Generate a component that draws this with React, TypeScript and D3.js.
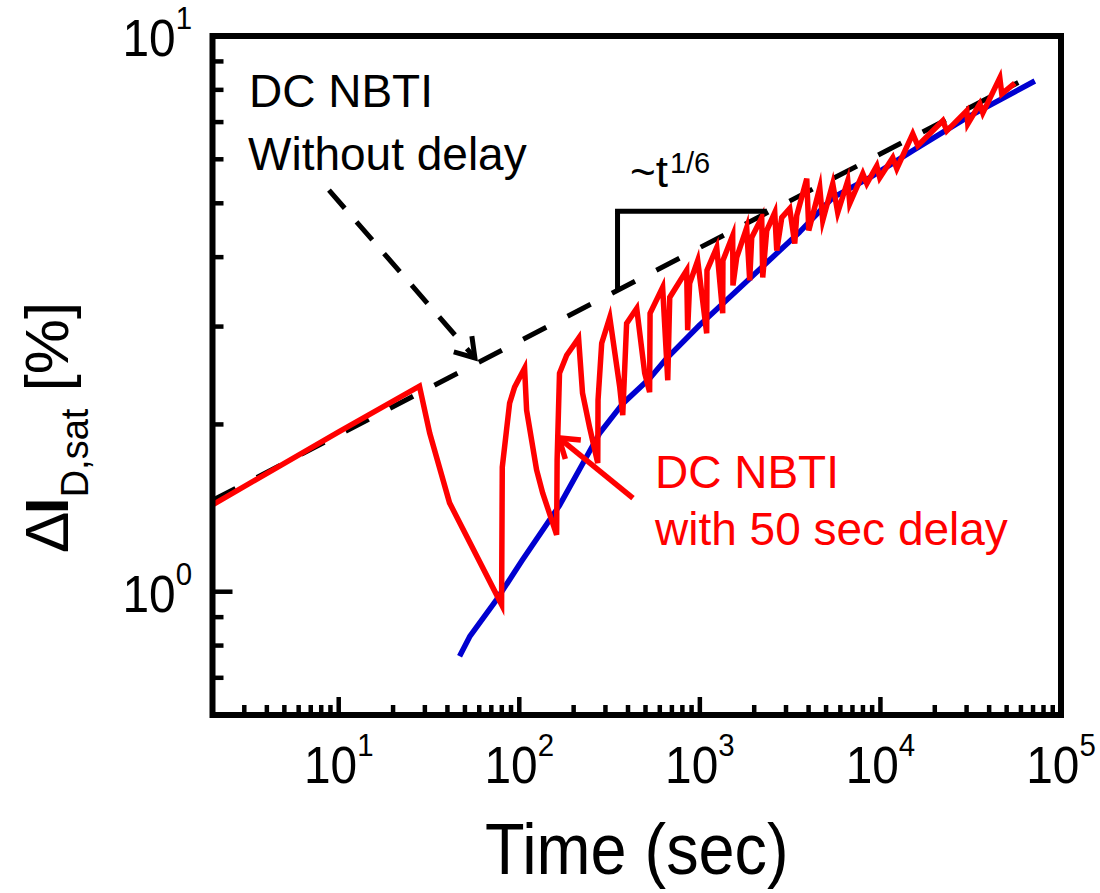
import React from "react";
import * as d3 from "d3";

const W = 1100;
const H = 893;
const FONT = "'Liberation Sans', Arial, Helvetica, sans-serif";

// Axis domains and labelled decades
const xDomain: [number, number] = [2, 1e5];
const yDomain: [number, number] = [0.6, 10];
const xMajorTicks = [10, 100, 1000, 10000, 100000];
const xTickExponents = ["1", "2", "3", "4", "5"];
const yMajorTicks = [1, 10];
const yTickExponents = ["0", "1"];

// DC NBTI measured without delay: power-law trend ~t^(1/6)
const trendTime = [2, 58000];
const trendValue = [1.46, 8.25];

// Continuous stress after the delay (blue)
const blueTime = [46.7, 53.1, 74.9, 104, 167, 279, 374, 527, 655, 998, 1288, 2346, 3574, 5444, 8728, 15100, 30090, 71620];
const blueValue = [0.765, 0.83, 0.968, 1.14, 1.43, 1.93, 2.18, 2.42, 2.63, 3.02, 3.26, 3.91, 4.44, 5.12, 5.56, 6.22, 7.13, 8.3];

// DC NBTI with 50 sec delay between stress and measurement (red)
const redTime = [
  2, 10, 28, 31.9, 41.1, 79.8, 80.5, 88.4, 94.2, 107, 109.8, 124.7, 134.7, 161, 162, 167, 183, 213,
  224, 245, 272, 273, 286, 317, 360, 374, 393, 447, 495, 527, 530, 622, 664, 681, 845, 856, 878, 973,
  1091, 1095, 1240, 1338, 1342, 1520, 1525, 1600, 1817, 1888, 1937, 2201, 2229, 2346, 2599, 2666, 2842,
  3146, 3353, 3440, 3909, 4010, 4614, 4792, 5444, 5801, 6593, 6763, 7985, 8405, 9546, 9917, 11703,
  12320, 15100, 16100, 22150, 23310, 30080, 30470, 35500, 36900, 45830, 47000, 55500,
];
const redValue = [
  1.433, 1.94, 2.343, 1.93, 1.445, 0.948, 1.676, 2.184, 2.334, 2.525, 2.122, 1.656, 1.506, 1.266, 1.726,
  2.473, 2.664, 2.858, 2.277, 1.978, 1.704, 2.212, 2.8, 3.117, 2.334, 2.078, 3.04, 3.235, 2.473, 2.286,
  3.17, 3.53, 2.402, 3.385, 3.787, 2.954, 3.587, 3.945, 2.917, 3.787, 4.163, 3.17, 3.945, 4.375, 3.557,
  3.995, 4.52, 3.632, 4.339, 4.713, 3.677, 4.466, 4.811, 4.111, 4.713, 4.892, 4.232, 4.752, 5.537, 4.467,
  5.335, 4.655, 5.424, 4.811, 5.491, 4.994, 5.652, 5.424, 5.841, 5.56, 6.04, 5.77, 6.67, 6.35, 7.04,
  6.75, 7.34, 6.95, 7.55, 7.27, 8.41, 7.87, 8.23,
];

// Slope bracket for the ~t^(1/6) guide
const bracketTime = [350, 350, 2350];
const bracketValue = [3.5, 4.84, 4.84];

// Annotation arrows (tail -> tip), in data coordinates
const blackArrow = { from: [8.83, 5.28], to: [56.8, 2.634] };
const redArrow = { from: [426, 1.474], to: [165.8, 1.891] };

type Pt = [number, number];
const zip = (a: number[], b: number[]): Pt[] => a.map((t, i) => [t, b[i]] as Pt);

function chevron(tail: Pt, tip: Pt, len: number, halfAngleDeg: number): string {
  const back = Math.atan2(tail[1] - tip[1], tail[0] - tip[0]);
  const h = (halfAngleDeg * Math.PI) / 180;
  const a1: Pt = [tip[0] + len * Math.cos(back + h), tip[1] + len * Math.sin(back + h)];
  const a2: Pt = [tip[0] + len * Math.cos(back - h), tip[1] + len * Math.sin(back - h)];
  return `M${a1[0]},${a1[1]}L${tip[0]},${tip[1]}L${a2[0]},${a2[1]}`;
}

export default function App() {
  const left = 212.5;
  const right = 1061;
  const top = 36;
  const bottom = 715;

  const x = d3.scaleLog().domain(xDomain).range([left, right]);
  const y = d3.scaleLog().domain(yDomain).range([bottom, top]);
  const line = d3
    .line<Pt>()
    .x((d) => x(d[0]))
    .y((d) => y(d[1]));

  const xMinor = x.ticks().filter((t) => !xMajorTicks.includes(t) && t > xDomain[0]);
  const yMinor = y.ticks().filter((t) => !yMajorTicks.includes(t) && t > yDomain[0]);

  const bTail: Pt = [x(blackArrow.from[0]), y(blackArrow.from[1])];
  const bTip: Pt = [x(blackArrow.to[0]), y(blackArrow.to[1])];
  const rTail: Pt = [x(redArrow.from[0]), y(redArrow.from[1])];
  const rTip: Pt = [x(redArrow.to[0]), y(redArrow.to[1])];

  return (
    <svg
      width={W}
      height={H}
      viewBox={`0 0 ${W} ${H}`}
      style={{ position: "absolute", left: 0, top: 0, background: "#fff" }}
      fontFamily={FONT}
    >
      <defs>
        <clipPath id="plotArea">
          <rect x={left} y={top} width={right - left} height={bottom - top} />
        </clipPath>
      </defs>

      {/* data */}
      <g clipPath="url(#plotArea)" fill="none">
        <path
          d={line(zip(trendTime, trendValue)) || ""}
          stroke="#000"
          strokeWidth={5}
          strokeDasharray="26 24"
        />
        <path d={line(zip(blueTime, blueValue)) || ""} stroke="#0000d0" strokeWidth={5.5} strokeLinejoin="round" />
        <path
          d={line(zip(redTime, redValue)) || ""}
          stroke="#ff0000"
          strokeWidth={5.5}
          strokeLinejoin="miter"
          strokeMiterlimit={6}
        />
      </g>

      {/* slope bracket */}
      <path
        d={line(zip(bracketTime, bracketValue)) || ""}
        fill="none"
        stroke="#000"
        strokeWidth={5}
        strokeLinejoin="miter"
      />
      <text x={630} y={187} fontSize={44} fill="#000">
        ~t
        <tspan fontSize={29} dx={2} dy={-14}>
          1/6
        </tspan>
      </text>

      {/* black dashed arrow */}
      <path
        d={`M${bTail[0]},${bTail[1]}L${bTip[0]},${bTip[1]}`}
        stroke="#000"
        strokeWidth={5}
        strokeDasharray="24 18"
        fill="none"
      />
      <path d={chevron(bTail, bTip, 22, 33)} stroke="#000" strokeWidth={5} fill="none" strokeLinejoin="miter" />
      <text x={249} y={107} fontSize={46} fill="#000">
        DC NBTI
      </text>
      <text x={248} y={170} fontSize={46} fill="#000">
        Without delay
      </text>

      {/* red arrow */}
      <path d={`M${rTail[0]},${rTail[1]}L${rTip[0]},${rTip[1]}`} stroke="#ff0000" strokeWidth={5.5} fill="none" />
      <path d={chevron(rTail, rTip, 22, 34)} stroke="#ff0000" strokeWidth={5.5} fill="none" strokeLinejoin="miter" />
      <text x={655} y={488} fontSize={46} fill="#ff0000">
        DC NBTI
      </text>
      <text x={655} y={545} fontSize={46} fill="#ff0000">
        with 50 sec delay
      </text>

      {/* ticks */}
      <g stroke="#000" strokeWidth={4.5}>
        {xMajorTicks.map((t) => (
          <line key={`xM${t}`} x1={x(t)} x2={x(t)} y1={bottom} y2={bottom - 18} />
        ))}
        {xMinor.map((t) => (
          <line key={`xm${t}`} x1={x(t)} x2={x(t)} y1={bottom} y2={bottom - 10} />
        ))}
        {yMajorTicks.map((t) => (
          <line key={`yM${t}`} x1={left} x2={left + 20} y1={y(t)} y2={y(t)} />
        ))}
        {yMinor.map((t) => (
          <line key={`ym${t}`} x1={left} x2={left + 11} y1={y(t)} y2={y(t)} />
        ))}
      </g>

      {/* frame */}
      <rect
        x={left}
        y={top}
        width={right - left}
        height={bottom - top}
        fill="none"
        stroke="#000"
        strokeWidth={6}
      />

      {/* tick labels */}
      {xMajorTicks.map((t, i) => (
        <g key={`xl${t}`} transform={`translate(${x(t)},783) scale(0.92,1)`}>
          <text textAnchor="middle" fontSize={52} fill="#000">
            10
            <tspan fontSize={32} dy={-27}>
              {xTickExponents[i]}
            </tspan>
          </text>
        </g>
      ))}
      {yMajorTicks.map((t, i) => (
        <g key={`yl${t}`} transform={`translate(192,${y(t) + 20}) scale(0.92,1)`}>
          <text textAnchor="end" fontSize={52} fill="#000">
            10
            <tspan fontSize={32} dy={-27}>
              {yTickExponents[i]}
            </tspan>
          </text>
        </g>
      ))}

      {/* axis titles */}
      <g transform={`translate(${(left + right) / 2},874) scale(0.9,1)`}>
        <text textAnchor="middle" fontSize={72} fill="#000">
          Time (sec)
        </text>
      </g>
      <text transform="translate(68,553) rotate(-90)" fontSize={62} fill="#000">
        Δ
        <tspan fontWeight="bold" dx={-3}>
          I
        </tspan>
        <tspan fontSize={38} dy={20}>
          D,sat
        </tspan>
        <tspan dy={-20}> [%]</tspan>
      </text>
    </svg>
  );
}
